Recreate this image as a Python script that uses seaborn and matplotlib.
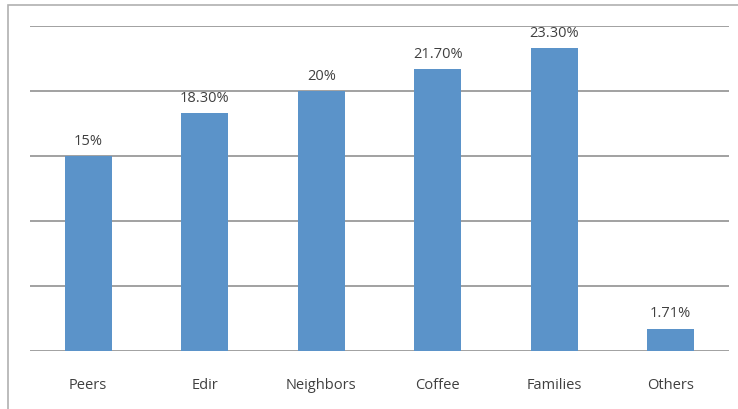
import matplotlib
matplotlib.use("Agg")
import matplotlib.pyplot as plt
import seaborn as sns
import pandas as pd
from matplotlib.patches import Rectangle

categories = ["Peers", "Edir", "Neighbors", "Coffee", "Families", "Others"]
values = [15, 18.3, 20, 21.7, 23.3, 1.71]
labels = ["15%", "18.30%", "20%", "21.70%", "23.30%", "1.71%"]

df = pd.DataFrame({"cat": categories, "val": values})

sns.set_theme(style="white")
plt.rcParams['font.family'] = ['Open Sans', 'DejaVu Sans']

fig = plt.figure(figsize=(7.38, 4.10), dpi=100)
ax = fig.add_axes([30/738, 1-352/410, (729-30)/738, (352-27)/410])

sns.barplot(data=df, x="cat", y="val", color="#5b93c9", width=0.4, ax=ax, zorder=3,
            saturation=1, linewidth=0)

ax.set_ylim(0, 25)
ax.set_xlim(-0.5, 5.5)
ax.set_yticks([0, 5, 10, 15, 20, 25])
ax.yaxis.grid(True, color="#9a9a9a", linewidth=1.3, zorder=0)
ax.set_yticklabels([])
ax.tick_params(axis='y', length=0)
ax.tick_params(axis='x', length=0, pad=19, labelsize=10.5, labelcolor="#404040")
ax.set_xlabel("")
ax.set_ylabel("")
for s in ax.spines.values():
    s.set_visible(False)

for i, (v, t) in enumerate(zip(values, labels)):
    ax.annotate(t, (i, v), xytext=(0, 6), textcoords="offset points",
                ha="center", va="bottom", fontsize=10.5, color="#404040")

fig.patches.append(Rectangle((8/738, -0.1), 1.2, 1 - 6/410 + 0.1, transform=fig.transFigure,
                             fill=False, edgecolor="#b0b0b0", linewidth=1.2))

fig.savefig("out.png", dpi=100)
